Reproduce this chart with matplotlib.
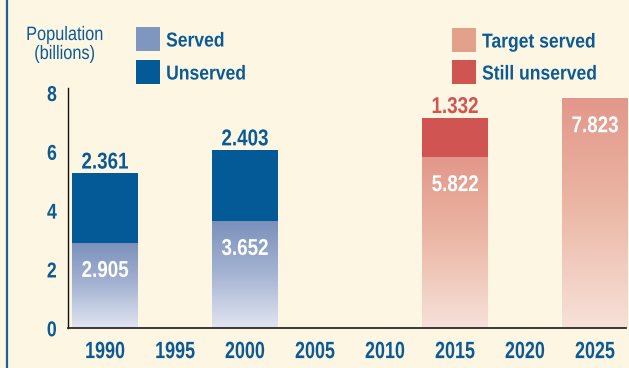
import numpy as np
import matplotlib.pyplot as plt
from matplotlib.colors import LinearSegmentedColormap
from matplotlib.patches import Rectangle
from matplotlib.lines import Line2D
from matplotlib.patheffects import AbstractPathEffect
from matplotlib.transforms import Affine2D

# population figures in billions
hist_years = [1990, 2000]
served = [2.905, 3.652]
unserved = [2.361, 2.403]

target_years = [2015, 2025]
target_served = [5.822, 7.823]
still_unserved = [1.332, 0.0]

tick_years = [1990, 1995, 2000, 2005, 2010, 2015, 2020, 2025]
y_ticks = [0, 2, 4, 6, 8]

BG = '#fdf6e3'
BLUE_TXT = '#0b5a96'
UNSERVED = '#045a96'
STILL = '#d05451'

plt.rcParams['font.family'] = ['Liberation Sans', 'DejaVu Sans']


class Squeeze(AbstractPathEffect):
    """Narrow the glyphs horizontally to get a condensed look."""

    def __init__(self, sx, anchor='center'):
        super().__init__()
        self.sx = sx
        self.anchor = anchor

    def draw_path(self, renderer, gc, tpath, affine, rgbFace=None):
        ext = affine.transform_path(tpath).get_extents()
        x0 = {'left': ext.x0, 'center': (ext.x0 + ext.x1) / 2,
              'right': ext.x1}[self.anchor]
        squeeze = Affine2D().translate(-x0, 0).scale(self.sx, 1).translate(x0, 0)
        renderer.draw_path(gc, tpath, affine + squeeze, rgbFace)


served_cmap = LinearSegmentedColormap.from_list(
    'served', [(0, '#e1e5f1'), (0.5, '#a6b4d3'), (1, '#7a90bb')])
target_cmap = LinearSegmentedColormap.from_list(
    'target', [(0, '#f7e1d9'), (0.55, '#ebb5a3'), (1, '#e2978a')])

W, H = 629, 368
fig = plt.figure(figsize=(W / 100, H / 100), dpi=100, facecolor=BG)
ax = fig.add_axes([68 / W, 1 - 328.3 / H, 558 / W, 240 / H])
ax.set_facecolor(BG)

bar_w = 4.7
grad = np.linspace(0, 1, 256).reshape(-1, 1)


def gradient_bar(x, h, cmap):
    bar = ax.bar(x, h, width=bar_w, color='none', linewidth=0, zorder=2)[0]
    im = ax.imshow(grad, cmap=cmap, aspect='auto', origin='lower',
                   extent=[x - bar_w / 2, x + bar_w / 2, 0, h], zorder=2)
    im.set_clip_path(bar)


value_fx = [Squeeze(0.82)]
label_font = dict(fontsize=16.5, fontweight='bold', ha='center', va='baseline',
                  textcoords='offset points', zorder=4, path_effects=value_fx)

for x, s, u in zip(hist_years, served, unserved):
    gradient_bar(x, s, served_cmap)
    ax.bar(x, u, bottom=s, width=bar_w, color=UNSERVED, linewidth=0, zorder=2)
    ax.annotate(f'{s:.3f}', (x, s), xytext=(0, -24.5), color='white', **label_font)
    ax.annotate(f'{u:.3f}', (x, s + u), xytext=(0, 3.5), color=BLUE_TXT, **label_font)

for x, s, u in zip(target_years, target_served, still_unserved):
    gradient_bar(x, s, target_cmap)
    ax.annotate(f'{s:.3f}', (x, s), xytext=(0, -24.5), color='white', **label_font)
    if u > 0:
        ax.bar(x, u, bottom=s, width=bar_w, color=STILL, linewidth=0, zorder=2)
        ax.annotate(f'{u:.3f}', (x, s + u), xytext=(0, 3.5), color=STILL, **label_font)

ax.set_xlim(1987.36, 2027.21)
ax.set_ylim(0, 8.16)
ax.set_xticks(tick_years)
ax.set_yticks(y_ticks)
ax.tick_params(axis='x', length=0, pad=8.5, labelsize=17, labelcolor=BLUE_TXT)
ax.tick_params(axis='y', length=0, pad=8, labelsize=15.5, labelcolor=BLUE_TXT)
for lab in ax.get_xticklabels():
    lab.set_fontweight('bold')
    lab.set_path_effects([Squeeze(0.76)])
for lab in ax.get_yticklabels():
    lab.set_fontweight('bold')
    lab.set_path_effects([Squeeze(0.82, 'right')])

for side in ['top', 'right']:
    ax.spines[side].set_visible(False)
ax.spines['left'].set_linewidth(1.0)
ax.spines['left'].set_color('#111111')
ax.spines['bottom'].set_linewidth(1.3)
ax.spines['bottom'].set_color('#2a2a2a')
ax.spines['bottom'].set_zorder(5)


def fx(px):
    return px / W


def fy(py):
    return 1 - py / H


# y axis caption
fig.text(fx(65), fy(45), 'Population\n(billions)', ha='center', va='center',
         fontsize=14, color=BLUE_TXT, linespacing=1.15,
         path_effects=[Squeeze(0.84)])

# legend boxes and labels
legend_items = [
    (136, 27, '#7f96bf', 'Served'),
    (136, 60, UNSERVED, 'Unserved'),
    (452, 28, '#e3a08a', 'Target served'),
    (452, 60, STILL, 'Still unserved'),
]
for lx, ly, col, txt in legend_items:
    fig.add_artist(Rectangle((fx(lx), fy(ly + 24)), 24 / W, 24 / H,
                             transform=fig.transFigure, facecolor=col, linewidth=0))
    fig.text(fx(lx + 30), fy(ly + 19.5), txt, ha='left', va='baseline',
             fontsize=14.5, fontweight='bold', color=BLUE_TXT,
             path_effects=[Squeeze(0.87, 'left')])

# frame line along the left edge
fig.add_artist(Line2D([fx(7.3), fx(7.3)], [0, 1], transform=fig.transFigure,
                      color='#1d5e9a', linewidth=1.6))

fig.savefig('out.png', dpi=100, facecolor=BG)
